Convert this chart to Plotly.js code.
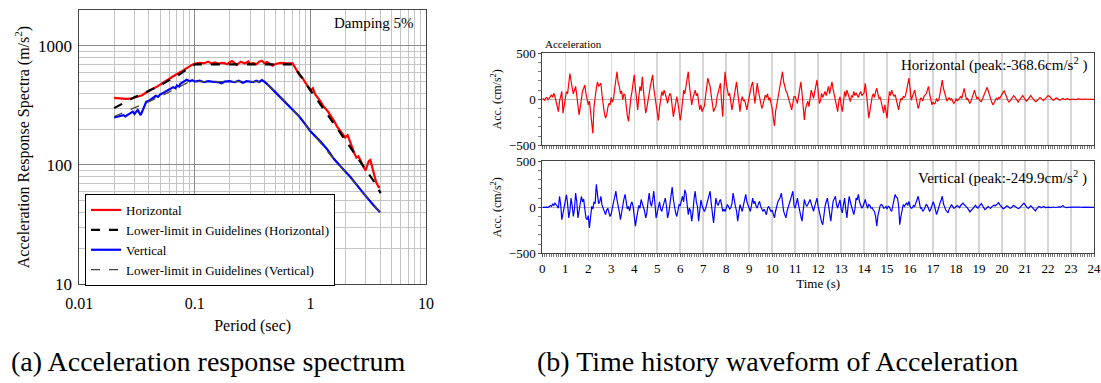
<!DOCTYPE html>
<html>
<head>
<meta charset="utf-8">
<script src="https://cdn.plot.ly/plotly-3.0.1.min.js"></script>
<style>html,body{margin:0;padding:0;background:#fff;}#chart{width:1101px;height:383px;}</style>
</head>
<body>
<div id="chart"></div>
<script>
// ---------- Response spectrum data ----------
const hSpecT = [0.02,0.022,0.025,0.028,0.03,0.032,0.035,0.037,0.04,0.043,0.046,0.05,0.055,0.06,0.065,0.07,0.075,0.08,0.085,0.09,0.095,0.1,0.11,0.12,0.13,0.14,0.15,0.16,0.17,0.18,0.19,0.2,0.21,0.22,0.23,0.24,0.25,0.27,0.29,0.3,0.32,0.34,0.36,0.38,0.4,0.42,0.45,0.47,0.5,0.55,0.6,0.65,0.7,0.75,0.8,0.85,0.9,0.95,1.0,1.05,1.1,1.2,1.3,1.4,1.5,1.6,1.7,1.8,1.9,2.0,2.1,2.2,2.3,2.4,2.5,2.6,2.7,2.8,2.9,3.0,3.1,3.2,3.3,3.4,3.5,3.7,3.9,4.0];
const hSpec  = [365,362,358,360,368,372,385,400,420,435,448,470,500,530,555,580,600,625,650,675,695,710,720,715,735,712,725,708,720,715,700,730,745,720,690,715,735,710,740,705,720,700,735,750,715,730,700,680,705,720,715,710,712,640,570,540,495,455,420,440,390,350,310,285,260,235,210,195,178,170,178,155,138,125,115,118,110,100,95,90,100,108,110,100,88,72,65,65];
const hLimT  = [0.02,0.03,0.04,0.05,0.06,0.07,0.08,0.09,0.1,0.7,0.8,1.0,1.5,2.0,2.5,3.0,3.5,4.05];
const hLim   = [300,370,420,465,515,557,610,655,700,700,580,425,240,162,118,92,74,58];
const vSpecT = [0.02,0.022,0.024,0.025,0.027,0.029,0.03,0.032,0.033,0.034,0.036,0.038,0.04,0.043,0.046,0.048,0.05,0.055,0.06,0.065,0.068,0.07,0.073,0.075,0.08,0.085,0.09,0.095,0.1,0.11,0.12,0.13,0.14,0.15,0.16,0.17,0.18,0.2,0.22,0.24,0.26,0.28,0.3,0.32,0.34,0.36,0.38,0.4,0.45,0.5,0.55,0.6,0.7,0.8,0.9,1.0,1.2,1.4,1.6,1.8,2.0,2.2,2.5,3.0,3.5,4.0];
const vSpec  = [250,258,262,255,270,280,268,290,275,262,300,340,345,360,380,372,390,410,430,450,440,465,455,480,500,520,505,515,500,510,495,505,500,498,495,485,500,505,495,510,490,505,500,495,510,498,515,500,450,405,370,340,295,255,220,192,160,135,112,98,88,80,68,55,46,40];
const vLimT  = [0.02,0.03,0.04,0.05,0.06,0.07,0.08,0.09,0.4,0.5,0.6,0.8,1.0,1.5,2.0,2.5,3.0,3.5,4.0];
const vLim   = [255,300,340,375,410,445,475,500,500,410,345,255,195,120,88,68,55,46,40];

// ---------- Acceleration time histories (cm/s^2), sampled every 0.05 s from 0 to 24 s ----------
const dt = 0.05;
const hAcc = [
0,5,-10,15,20,-5,10,30,50,20,65,30,-40,-80,-135,-20,50,85,-150,-60,
20,85,60,150,280,200,140,60,100,140,40,-60,-170,-90,30,90,120,155,60,-25,
-60,-20,-150,-250,-370,-80,50,120,190,140,160,175,40,-100,-150,-205,-170,-90,-45,-60,
20,-30,10,120,200,300,180,140,60,90,-5,60,45,-80,-180,-240,-100,10,80,150,
265,120,-40,-115,30,140,90,245,100,-20,-150,-90,10,65,140,200,265,120,30,-80,
-160,-230,-90,20,85,40,100,60,10,-45,20,65,40,-60,-190,-120,-20,30,-40,-120,
-230,-150,10,100,60,150,230,300,150,20,-60,10,60,100,40,65,-30,-115,-60,-135,
-100,-80,30,120,230,180,140,40,-60,-135,-100,-80,20,65,120,175,-40,-190,100,300,
180,100,40,65,-30,-115,-40,30,100,190,80,-60,-135,-20,30,-20,-5,-60,-115,-40,
40,100,150,190,60,-45,60,175,90,20,-5,-100,-60,10,45,20,60,-10,20,-45,
-100,-200,-290,-130,-60,20,100,150,220,300,190,130,90,65,20,-5,-60,-115,-40,30,
30,-20,-45,40,120,190,60,-120,-225,-100,-45,-20,-80,20,100,60,10,80,150,210,
90,-45,-20,65,20,50,85,40,90,140,60,120,190,110,40,-10,-80,-135,-20,30,
-60,-135,-40,85,30,100,60,10,-25,40,20,85,40,70,50,20,60,85,40,60,
70,175,80,-60,-205,-120,-40,30,60,20,80,120,60,10,20,-40,-90,-150,-60,-120,
-205,-40,85,40,100,60,30,50,-20,-60,-115,-40,10,-5,30,20,40,100,160,230,
120,-10,30,60,100,30,-40,-100,-60,10,10,-20,30,45,60,100,140,60,-20,-60,
-30,-50,-40,10,-20,-5,60,150,210,120,60,30,-20,-5,20,-10,10,-20,-45,-30,
10,-20,-5,20,30,10,60,120,60,-5,10,-30,-45,-20,20,60,100,50,10,20,
-10,-20,-25,10,40,80,100,130,90,35,10,-30,-60,-40,-10,10,-5,20,10,40,
60,80,90,50,20,-10,-30,-20,0,20,40,30,10,-20,-30,-10,10,30,40,20,
0,-20,-10,10,30,40,20,0,-15,-25,-20,-5,10,20,10,-10,-15,0,15,25,
40,35,20,10,-5,-10,5,15,10,0,-10,-5,5,10,0,-5,5,8,0,-5,
0,5,3,-3,-5,0,4,2,-2,-4,0,3,2,-2,-3,0,2,1,-1,0,
0];
const vAcc = [
0,2,-3,4,2,-2,5,20,10,35,20,45,30,10,-10,120,30,-135,-60,20,
65,135,40,-115,-40,100,20,-100,-20,155,60,-115,-40,50,120,60,90,-20,-115,-135,
-90,-225,-100,10,-20,60,40,250,140,40,60,120,20,-10,-50,-80,-30,-10,-60,-100,
-70,20,60,110,175,80,30,-50,-135,-60,40,90,140,60,-20,10,-40,30,60,10,
-80,-205,-120,-30,20,-10,85,40,10,-40,-115,-60,60,155,50,10,80,175,40,-115,
-60,20,60,-20,-45,10,60,100,20,-115,-60,40,80,220,90,-10,-60,-100,-40,30,
20,80,120,60,190,150,-20,-80,-10,-40,-150,-60,90,175,60,10,-150,-40,80,20,
-10,-45,-20,30,60,120,175,40,-60,-170,-40,100,40,20,60,85,30,-45,-20,-45,
-10,30,10,-20,-5,40,155,60,10,-40,-150,-60,30,-10,-45,20,90,140,60,20,
-20,-45,20,100,40,65,10,-10,40,65,10,-30,-45,-20,-60,-80,-10,10,-20,-45,
-30,-80,-115,-40,30,60,85,110,155,40,-45,-80,-115,-40,10,30,80,130,175,20,
-10,40,100,20,-60,-100,-150,-40,85,40,10,30,60,85,40,-20,-45,10,60,100,
10,-60,-100,-160,-190,-60,10,60,100,20,-80,-150,-40,65,90,120,30,-10,40,80,
-20,-60,30,100,-20,-115,10,120,60,10,-30,-80,-20,100,80,140,60,20,-10,10,
50,85,30,-10,30,20,-10,-5,-30,-45,-100,-205,-90,-10,20,30,20,-10,-5,10,
-20,10,5,-30,-45,20,80,140,110,100,20,-190,-100,-10,30,10,30,50,20,65,
10,-10,-5,20,10,40,80,120,60,-10,-5,-45,-30,10,30,20,-10,-45,-20,30,
60,30,-20,-80,-40,20,45,80,120,40,-10,-30,-45,-60,-20,10,30,10,-10,-5,
10,20,10,-5,20,30,45,30,10,5,-10,-30,-50,-35,-25,-10,10,20,0,-10,
10,30,40,20,-10,-25,-15,0,10,-5,-10,5,20,25,15,30,40,50,30,10,
-5,-15,-10,5,15,10,0,-10,-5,10,20,15,5,-5,-15,-10,5,20,35,45,
30,10,-5,-10,5,15,5,-15,-30,-40,-20,-5,10,5,-5,0,10,5,-5,0,
5,2,-3,0,5,3,-2,0,4,8,5,2,10,20,5,0,-3,0,2,0,
-2,0,2,1,-1,0,2,3,0,-2,0,1,0,-1,0,1,0,0,0,0,
0];

// ---------- Text ----------
const xTicksLog = [0.01,0.1,1,10];
const xTickTextLog = ['0.01','0.1','1','10'];
const yTicksLog = [10,100,1000];
const yTickTextLog = ['10','100','1000'];
const legendNames = ['Horizontal','Lower-limit in Guidelines (Horizontal)','Vertical','Lower-limit in Guidelines (Vertical)'];

// ---------- Layout helpers (pixel -> paper) ----------
const W = 1101, H = 383;
const px = x => x / W;
const py = y => 1 - y / H;
const FONT = '"Liberation Serif", "Times New Roman", Times, serif';

function minorLog(lo, hi) {
  const v = [];
  for (let e = lo; e < hi; e++) for (let d = 2; d <= 9; d++) v.push(d * Math.pow(10, e));
  return v;
}

const traces = [
  {x: hSpecT, y: hSpec, xaxis:'x', yaxis:'y', mode:'lines', name: legendNames[0], line:{color:'#ff0000', width:2.2}},
  {x: hLimT, y: hLim, xaxis:'x', yaxis:'y', mode:'lines', name: legendNames[1], line:{color:'#000000', width:2.2, dash:'dash'}},
  {x: vSpecT, y: vSpec, xaxis:'x', yaxis:'y', mode:'lines', name: legendNames[2], line:{color:'#0000ff', width:2.2}},
  {x: vLimT, y: vLim, xaxis:'x', yaxis:'y', mode:'lines', name: legendNames[3], line:{color:'#444444', width:1.3, dash:'dash'}},
  {y: hAcc, x0: 0, dx: dt, xaxis:'x2', yaxis:'y2', mode:'lines', showlegend:false, line:{color:'#ff0000', width:1.2}},
  {y: vAcc, x0: 0, dx: dt, xaxis:'x3', yaxis:'y3', mode:'lines', showlegend:false, line:{color:'#0000ff', width:1.2}}
];

const logX0 = 79.3, logX1 = 426, logY0 = 10, logY1 = 284;
const tX0 = 542.3, tX1 = 1094;

const layout = {
  width: W, height: H,
  margin: {l:0, r:0, t:0, b:0},
  paper_bgcolor: '#ffffff', plot_bgcolor: '#ffffff',
  font: {family: FONT, color: '#000', size: 14},
  showlegend: true,
  legend: {
    x: px(85), y: py(194), xanchor:'left', yanchor:'top',
    bgcolor:'#ffffff', bordercolor:'#000000', borderwidth:1,
    font:{family: FONT, size:13}, tracegroupgap:0, itemwidth:30
  },
  xaxis: {
    type:'log', range:[-2, 1], domain:[px(logX0), px(logX1)], anchor:'y',
    tickmode:'array', tickvals:xTicksLog, ticktext:xTickTextLog,
    tickfont:{size:16}, ticks:'', ticklabelstandoff:5, showgrid:true, gridcolor:'#8a8a8a', gridwidth:1,
    minor:{tickmode:'array', tickvals:minorLog(-2,1), showgrid:true, gridcolor:'#c4c4c4', gridwidth:1, ticks:''},
    showline:true, linecolor:'#444', linewidth:1, mirror:true, zeroline:false,
    title:{text:'Period (sec)', font:{size:16}, standoff:8}
  },
  yaxis: {
    type:'log', range:[1, Math.log10(2000)], domain:[py(logY1), py(logY0)], anchor:'x',
    tickmode:'array', tickvals:yTicksLog, ticktext:yTickTextLog,
    tickfont:{size:17}, ticks:'', ticklabelstandoff:3, showgrid:true, gridcolor:'#8a8a8a', gridwidth:1,
    minor:{tickmode:'array', tickvals:minorLog(1,4), showgrid:true, gridcolor:'#c4c4c4', gridwidth:1, ticks:''},
    showline:true, linecolor:'#444', linewidth:1, mirror:true, zeroline:false,
    title:{text:'Acceleration Response Spectra (m/s<sup>2</sup>)', font:{size:16}, standoff:4}
  },
  xaxis2: {
    range:[0,24], domain:[px(tX0), px(tX1)], anchor:'y2', matches:'x3',
    dtick:1, showticklabels:false, ticks:'outside', ticklen:3, tickcolor:'#555',
    minor:{dtick:0.1, ticks:'outside', ticklen:3, tickcolor:'#777', showgrid:false},
    showgrid:true, gridcolor:'#d6d6d6', gridwidth:1.5,
    showline:true, linecolor:'#444', mirror:true, zeroline:false
  },
  yaxis2: {
    range:[-500,500], domain:[py(145.3), py(53.3)], anchor:'x2',
    tickmode:'array', tickvals:[-500,0,500], tickfont:{size:13},
    ticks:'outside', ticklen:3, tickcolor:'#555',
    minor:{dtick:100, ticks:'outside', ticklen:3, tickcolor:'#777'},
    showgrid:false, zeroline:true, zerolinecolor:'#b5b5b5', zerolinewidth:1,
    showline:true, linecolor:'#444', mirror:true,
    title:{text:'Acc. (cm/s<sup>2</sup>)', font:{size:12}, standoff:4}
  },
  xaxis3: {
    range:[0,24], domain:[px(tX0), px(tX1)], anchor:'y3',
    dtick:1, tickfont:{size:13}, ticks:'outside', ticklen:3, tickcolor:'#555',
    ticklabeloverflow:'allow',
    minor:{dtick:0.1, ticks:'outside', ticklen:3, tickcolor:'#777', showgrid:false},
    showgrid:true, gridcolor:'#d6d6d6', gridwidth:1.5,
    showline:true, linecolor:'#444', mirror:true, zeroline:false,
    title:{text:'Time (s)', font:{size:13}, standoff:2}
  },
  yaxis3: {
    range:[-500,500], domain:[py(253.3), py(161.3)], anchor:'x3',
    tickmode:'array', tickvals:[-500,0,500], tickfont:{size:13},
    ticks:'outside', ticklen:3, tickcolor:'#555',
    minor:{dtick:100, ticks:'outside', ticklen:3, tickcolor:'#777'},
    showgrid:false, zeroline:true, zerolinecolor:'#b5b5b5', zerolinewidth:1,
    showline:true, linecolor:'#444', mirror:true,
    title:{text:'Acc. (cm/s<sup>2</sup>)', font:{size:12}, standoff:4}
  },
  annotations: [
    {text:'Damping 5%', xref:'paper', yref:'paper', x:px(416), y:py(23), xanchor:'right', yanchor:'middle', showarrow:false, font:{size:15}},
    {text:'Acceleration', xref:'paper', yref:'paper', x:px(543), y:py(44), xanchor:'left', yanchor:'middle', showarrow:false, font:{size:11}},
    {text:'Horizontal (peak:-368.6cm/s<sup>2</sup> )', xref:'paper', yref:'paper', x:px(1089), y:py(65), xanchor:'right', yanchor:'middle', showarrow:false, font:{size:15}},
    {text:'Vertical (peak:-249.9cm/s<sup>2</sup> )', xref:'paper', yref:'paper', x:px(1089), y:py(177), xanchor:'right', yanchor:'middle', showarrow:false, font:{size:15}},
    {text:'(a) Acceleration response spectrum', xref:'paper', yref:'paper', x:px(9), y:py(361), xanchor:'left', yanchor:'middle', showarrow:false, font:{size:28}},
    {text:'(b) Time history waveform of Acceleration', xref:'paper', yref:'paper', x:px(535), y:py(361), xanchor:'left', yanchor:'middle', showarrow:false, font:{size:28}}
  ]
};

Plotly.newPlot('chart', traces, layout, {staticPlot:true, displayModeBar:false});
</script>
</body>
</html>
